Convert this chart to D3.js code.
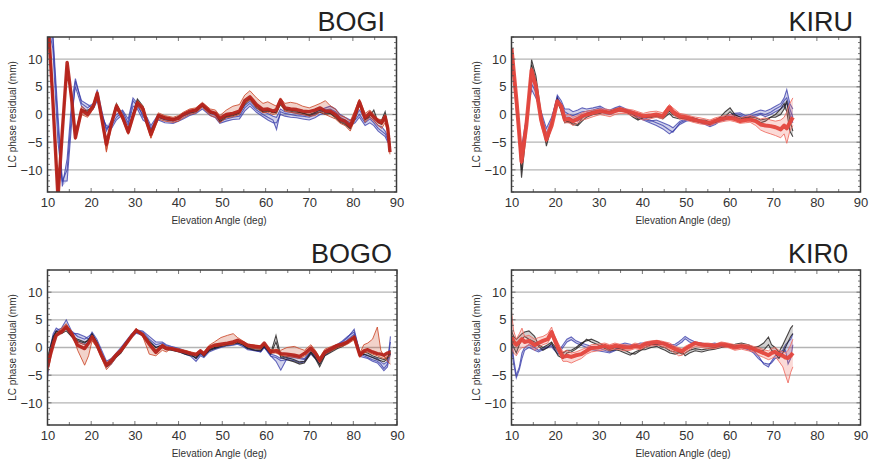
<!DOCTYPE html>
<html><head><meta charset="utf-8">
<script src="https://cdn.jsdelivr.net/npm/d3@7"></script>
<style>body{margin:0;background:#fff}</style>
</head><body>
<svg id="c" width="869" height="461"></svg>
<script>
// ---------- tick labels ----------
const xTicks = [10, 20, 30, 40, 50, 60, 70, 80, 90];
const yTicks = [-10, -5, 0, 5, 10];
const stationNames = ["BOGI", "KIRU", "BOGO", "KIR0"];

// ---------- BOGI ----------
const elevBOGI = [10.2, 11.2, 12.4, 13.4, 14.5, 15.5, 16.4, 17.8, 19.2, 20.5,
  21.4, 22.5, 23.5, 24.7, 25.8, 27.2, 28.5, 29.6, 30.6, 31.9,
  32.8, 33.7, 35.4, 36.9, 38.8, 40.0, 41.1, 42.6, 44.0, 45.5,
  47.3, 48.5, 49.5, 51.0, 52.5, 54.0, 55.2, 56.4, 57.9, 59.4,
  60.5, 61.7, 62.5, 63.4, 64.4, 65.7, 67.1, 68.5, 70.0, 71.3,
  72.5, 73.7, 74.8, 76.0, 77.1, 78.2, 79.4, 80.5, 81.5, 82.8,
  83.9, 84.8, 85.8, 86.6, 87.4, 88.0, 88.5];
const bogiBlue0 = [16, 14, -2, -13, -8, 2, 6.5, 2, 1.2, 2,
  3.5, 0, -2.5, -2, -0.5, 0.5, -1.5, 2.5, 1.5, 0,
  -1, -2.5, -0.5, -1, -1.2, -0.8, -0.3, 0.2, 0.5, 1.5,
  0.2, -0.2, -1.2, -0.8, -0.5, -0.3, 1.2, 2, 0.8, 0,
  -0.5, -1, -2.7, 0.5, 0.2, 0, -0.2, -0.3, -0.5, 0,
  0.5, 0.8, 1.0, 0.5, -0.5, -1, -1.5, -1, 0, -1.5,
  -0.8, -1.5, -2.5, -3, -3.5, -4.5, -5.5];
const bogiBlue1 = [16, 12, -5, -12, -10, 0, 5.0, 1.5, 0.5, 1.5,
  4.5, 0.5, -3.0, -1.0, 0, 0.8, -0.8, 3.0, 2.0, -0.5,
  -0.5, -2.0, 0, -0.6, -0.8, -0.4, 0, 0.5, 1.0, 2.0,
  0.6, 0.2, -0.6, -0.3, 0, 0.3, 1.6, 2.4, 1.2, 0.5,
  0.2, -0.3, -0.5, 1.0, 0.5, 0.4, 0.2, 0, -0.2, 0.3,
  0.8, 1.2, 1.5, 1.0, 0, -0.5, -1.0, -0.5, 0.8, -0.8,
  -0.5, -1.0, -2.0, -2.2, -3.0, -4.0, -6.0];
const bogiBlue2 = [16, 15, 0, -12, -12, -2, 6.0, 2.5, 1.8, 1.0,
  2.5, -0.5, -2.0, -2.5, -1.0, 0, -2.0, 1.5, 1.0, -1.0,
  -1.5, -2.8, -1.0, -1.5, -1.6, -1.2, -0.8, -0.2, 0.2, 1.0,
  -0.2, -0.6, -1.6, -1.2, -0.9, -0.8, 0.6, 1.5, 0.4, -0.4,
  -1.0, -1.5, -1.5, 0, -0.3, -0.5, -0.6, -0.8, -1.0, -0.6,
  0, 0.2, 0.5, 0, -1.0, -1.4, -2.0, -1.5, -0.5, -2.0,
  -1.5, -2.0, -3.0, -3.5, -4.0, -5.0, -5.0];
const bogiBlack0 = [16, 3, -14, -3, 9.0, 2.5, -3.8, 1.0, 0.3, 1.8,
  3.6, -0.8, -5.0, -1.2, 2.0, -0.2, -3.0, 0.2, 2.8, 1.5,
  -1.2, -3.2, 0, -0.4, -0.8, -0.5, 0.2, 0.5, 0.9, 1.5,
  0.6, 0, -1.0, -0.3, 0, 0.4, 2.2, 3.0, 1.5, 0.6,
  0.8, 0.3, 0.5, 2.2, 1.0, 0.8, 0.6, 0.2, 0, 0.4,
  0.8, 0.3, 0.2, -0.4, -1.2, -1.6, -2.4, -0.5, 2.0, -0.8,
  0, -0.2, -1.0, -1.0, 0.5, -2.0, -5.5];
const bogiBlack1 = [16, 3.5, -15, -2.5, 8.8, 3.2, -3.0, 0.5, 0.8, 1.2,
  3.2, -1.2, -5.8, -1.8, 1.2, -0.8, -2.6, 0, 2.5, 0.6,
  -1.8, -3.0, -0.5, -0.9, -1.1, -0.3, -0.2, 0.3, 0.5, 1.6,
  0.2, 0.4, -1.3, -0.5, -0.2, 0.2, 1.8, 2.8, 1.2, 0.4,
  0.6, 0.4, 0.3, 1.8, 0.8, 0.6, 0.4, 0.3, -0.2, 0.2,
  0.4, 0, 0.2, -0.6, -1.4, -1.8, -2.6, -0.8, 1.8, -1.0,
  -0.3, 0.8, -1.5, -1.8, -0.5, -3.0, -4.5];
const bogiRed1 = [16, 4, -14, -2, 9.0, 3.5, -3.5, 1.5, 0.5, 2.0,
  4.2, -0.5, -6.5, -1.0, 2.0, 0, -2.8, 0.2, 2.5, 1.5,
  -1.0, -4.2, 0.3, -0.2, -0.5, -0.2, 0.4, 1.0, 1.2, 2.2,
  1.0, 0.8, -0.2, 0.8, 1.5, 1.8, 3.5, 4.3, 3.0, 2.0,
  2.3, 1.8, 1.5, 3.0, 2.0, 2.2, 2.0, 1.5, 1.2, 1.6,
  2.0, 2.5, 1.6, 1.0, -0.2, -0.5, -1.2, 0.8, 2.8, 0.2,
  0.8, 0, -0.8, -1.0, 0, -2.0, -6.0];
const bogiRed2 = [16, 2, -15, -4, 8.5, 2.5, -4.5, 0, -0.5, 1.0,
  3.2, -1.5, -6.8, -2.0, 1.0, -1.0, -3.6, -0.8, 1.6, 0.4,
  -2.0, -4.3, -0.8, -1.2, -1.4, -1.2, -0.6, 0, 0.3, 1.3,
  -0.2, -0.5, -1.5, -0.6, -0.4, 0, 2.0, 2.6, 1.2, 0.3,
  0.4, 0, 0.2, 2.0, 0.6, 0.4, 0.2, 0, -0.3, -0.2,
  0.5, 0, -0.4, -0.8, -1.6, -2.0, -3.0, -0.8, 1.6, -1.4,
  -0.5, -1.2, -2.0, -2.5, -1.5, -3.2, -7.2];
const bogiRedCore = [16, 3, -15, -3, 9.4, 3, -4.2, 0.8, 0, 1.5,
  3.8, -1, -5.4, -1.5, 1.5, -0.5, -3.2, -0.3, 2.1, 1.0,
  -1.5, -3.6, -0.2, -0.6, -0.9, -0.7, 0, 0.6, 0.8, 1.8,
  0.5, 0.2, -0.7, 0, 0.2, 0.6, 2.5, 3.2, 1.8, 0.9,
  1.0, 0.6, 0.9, 2.6, 1.2, 1.0, 0.9, 0.6, 0.5, 0.8,
  1.2, 0.6, 0.6, 0, -0.9, -1.2, -2.1, 0, 2.3, -0.6,
  0.3, -0.5, -1.2, -1.5, -0.4, -2.5, -6.8];

// ---------- KIRU ----------
const elevKIRU = [10.0, 11.2, 12.3, 13.4, 14.6, 15.6, 16.8, 18.0, 19.2, 20.5,
  21.4, 22.2, 23.2, 24.1, 25.2, 26.2, 27.2, 28.7, 30.3, 31.5,
  32.6, 33.7, 34.8, 36.3, 37.9, 39.0, 40.2, 41.7, 43.2, 44.7,
  46.2, 47.0, 48.6, 50.0, 51.6, 53.2, 54.4, 55.5, 56.7, 57.8,
  59.0, 60.1, 61.2, 62.4, 63.6, 64.7, 66.0, 67.1, 68.2, 69.4,
  70.5, 71.7, 72.5, 73.1, 73.8, 74.5];
const kiruBlue0 = [12, 0, -7, -1, 5.5, 4, 0, -3.5, -1, 3.5,
  2.5, 1.0, 1.0, 0.5, 0.8, 1.2, 1.0, 1.2, 1.5, 1.0,
  0.8, 1.2, 1.5, 1.0, 0.5, 0, -0.5, -1.0, -1.5, -2.0,
  -2.8, -3.2, -1.5, -1.0, -0.8, -1.2, -1.5, -1.8, -1.2, -0.6,
  -0.4, 0, 0.2, 0.3, -0.2, 0, 0.5, 0.8, 0.6, 1.0,
  1.5, 2.0, 3.0, 4.5, 2.0, 1.0];
const kiruBlue1 = [12, 1, -6, -0.5, 4.5, 3, 0.5, -2.5, -0.5, 3.0,
  2.0, 0.5, 0, -0.2, 0.2, 0.5, 0.6, 0.8, 1.2, 0.6,
  0.5, 0.8, 1.2, 0.7, 0.2, -0.4, -0.8, -1.2, -1.0, -1.5,
  -2.0, -2.4, -1.2, -0.8, -0.6, -1.0, -1.2, -2.0, -1.5, -1.0,
  -0.8, -0.4, -0.2, 0, -0.5, -0.3, 0, 0.2, 0, 0.4,
  1.0, 1.5, 2.5, 3.0, 1.0, -0.5];
const kiruBlue2 = [12, 2, -7.5, -2, 6.5, 5, -0.5, -4.5, -1.5, 3.2,
  1.5, -0.5, -0.5, -1.0, -1.2, -0.5, 0, 0.3, 0.5, 0.2,
  0, 0.4, 0.8, 0.4, 0, -0.6, -1.0, -1.5, -2.0, -2.6,
  -3.5, -3.0, -1.8, -1.2, -1.0, -1.5, -1.8, -2.2, -1.8, -1.2,
  -1.0, -0.6, -0.5, -0.3, -0.8, -0.5, -0.3, 0, -0.4, 0,
  0.5, 1.0, 1.5, 2.0, 0, -1.5];
const kiruBlack0 = [11, 2, -11.4, -3, 9.9, 7, 0, -5.7, -2, 2.0,
  1.0, -1.0, -1.5, -1.5, -1.8, -0.6, 0.2, 0.6, 0.8, 0.4,
  0.6, 1.0, 1.2, 0.8, 0, -0.8, -0.6, -0.4, -0.2, -0.5,
  0.6, 0, -0.6, -0.8, -1.2, -1.4, -1.6, -1.8, -1.0, -0.5,
  0.5, 1.2, 0, -0.5, -0.8, -0.4, -0.6, -1.0, -0.8, -0.5,
  -0.5, 0, 1.0, 2.5, -1.0, -3.0];
const kiruBlack1 = [12, 3, -10, -1.5, 9.0, 6, -0.5, -5.0, -1.5, 2.8,
  0.5, -1.5, -1.2, -1.8, -2.0, -1.2, -0.5, 0, 0.2, 0.6,
  0.4, 0.8, 0.6, 0.5, -0.5, -1.0, -0.5, -0.6, -0.4, -0.8,
  0.2, -0.5, -0.8, -0.4, -0.6, -1.0, -1.0, -1.4, -1.5, -1.0,
  -0.4, 0.5, -0.4, -0.8, -0.5, -0.8, -1.0, -1.5, -1.2, -0.5,
  0, 1.0, 2.0, 0.5, -3.0, -4.0];
const kiruRed1 = [12, 3, -7, -1, 7.5, 6, 0, -3.5, -1, 2.0,
  1.8, -0.2, 0, -0.5, -0.2, 0.3, 0.6, 0.8, 1.0, 1.0,
  0.8, 1.0, 1.3, 1.0, 0.8, 0.5, 0.2, 0.5, 0.6, 0.3,
  1.8, 1.2, 0.2, 0, -0.4, -0.6, -0.8, -1.0, -0.6, -0.4,
  -0.2, 0, -0.3, -0.6, -0.4, -0.2, -0.5, -0.8, -0.6, -1.0,
  -1.2, -1.0, -0.5, 0.5, 2.0, 3.0];
const kiruRed2 = [12, 1, -9, -3, 8.5, 4, -2, -5, -2.5, 2.6,
  1.0, -1.5, -1.5, -2.0, -1.5, -1.0, -0.8, -0.4, 0, -0.2,
  -0.4, 0, 0.2, 0.2, -0.3, -0.6, -1.0, -0.8, -0.5, -0.8,
  0.8, 0, -0.8, -1.0, -1.4, -1.7, -1.8, -2.0, -1.6, -1.4,
  -1.2, -1.1, -1.3, -1.6, -1.5, -1.4, -2.0, -2.8, -3.2, -3.5,
  -3.8, -4.2, -3.5, -5.2, -3.0, -2.0];
const kiruRedCore = [12, 2, -8.5, -2, 8.0, 5, -1, -4.5, -2, 2.4,
  1.5, -0.9, -0.8, -1.2, -0.8, -0.3, 0, 0.3, 0.6, 0.5,
  0.3, 0.6, 0.9, 0.6, 0.3, 0, -0.3, -0.2, 0, -0.3,
  1.3, 0.5, -0.3, -0.5, -0.9, -1.2, -1.4, -1.5, -1.1, -0.9,
  -0.7, -0.6, -0.8, -1.2, -1.0, -0.9, -1.2, -1.8, -2.0, -2.1,
  -2.3, -2.7, -2.0, -2.5, -1.5, -0.5];

// ---------- BOGO ----------
const elevBOGO = [10.0, 10.6, 11.3, 12.0, 13.2, 14.3, 15.5, 16.9, 18.5, 19.4,
  20.2, 21.3, 22.4, 23.5, 24.6, 25.7, 26.8, 28.0, 29.2, 30.3,
  31.8, 33.3, 34.8, 36.3, 37.2, 38.3, 40.2, 41.5, 42.8, 44.0,
  45.0, 45.8, 47.0, 48.2, 49.7, 51.2, 52.5, 53.5, 54.7, 55.8,
  57.3, 58.8, 59.6, 61.1, 62.3, 63.4, 64.8, 66.5, 67.7, 68.8,
  70.3, 71.3, 72.3, 73.5, 75.0, 76.4, 77.5, 78.7, 80.2, 81.5,
  82.4, 83.3, 84.4, 85.5, 86.3, 87.0, 87.8, 88.5];
const bogoBlue0 = [-5.5, -1.0, 2.0, 3.0, 3.5, 5.0, 3.0, 2.0, 1.5, 2.0,
  2.5, 1.0, -1.0, -3.0, -2.5, -1.2, -0.2, 1.0, 2.2, 3.0,
  2.8, 1.5, 0.5, 0.8, 0.3, 0, -0.4, -0.8, -1.2, -2.0,
  -1.2, -1.5, -0.5, -0.2, 0.2, 0.5, 0.6, 0.8, 0.4, -0.2,
  -0.4, -0.6, 0.3, -1.5, -2.5, -4.1, -2.0, -1.8, -2.0, -2.2,
  -0.8, -1.6, -2.6, -1.0, -0.2, 0.5, 1.0, 1.8, 3.3, -1.0,
  -1.5, -1.8, -2.2, -2.5, -3.0, -3.8, -3.0, 2.0];
const bogoBlue1 = [-4.0, 0, 2.5, 3.5, 2.8, 4.0, 2.5, 2.5, 2.0, 1.5,
  2.8, 1.5, -0.5, -2.5, -2.0, -1.0, 0, 1.2, 2.4, 3.2,
  3.0, 2.0, 1.0, 1.0, 0.5, 0.2, -0.2, -0.6, -1.0, -1.6,
  -0.8, -1.2, -0.3, 0, 0.3, 0.6, 0.8, 1.0, 0.6, 0,
  -0.5, -0.8, 0, -1.2, -1.5, -2.0, -1.6, -1.5, -1.8, -2.0,
  -0.5, -1.4, -2.4, -0.6, 0, 0.6, 1.2, 2.0, 2.8, -0.8,
  -1.2, -1.4, -1.8, -2.0, -2.6, -3.0, -2.5, 1.0];
const bogoBlue2 = [-3.0, -2.0, 1.0, 2.0, 3.0, 3.5, 2.0, 1.0, 0.5, 1.0,
  2.0, 0.5, -1.5, -3.5, -3.0, -1.8, -0.8, 0.5, 1.8, 2.6,
  2.2, 1.0, 0, 0.4, 0, -0.4, -0.8, -1.2, -1.6, -2.5,
  -1.5, -1.8, -0.8, -0.4, 0, 0.3, 0.4, 0.6, 0.2, -0.4,
  -0.6, -0.8, 0, -1.6, -1.8, -2.4, -2.2, -2.4, -2.8, -2.6,
  -1.2, -2.0, -3.0, -1.4, -0.6, 0.2, 0.6, 1.4, 2.4, -1.6,
  -1.8, -2.0, -2.5, -2.8, -3.5, -4.2, -3.5, -1.0];
const bogoBlack0 = [-3.0, -1.0, 1.5, 2.8, 3.0, 3.5, 2.2, 1.2, 0.8, 1.5,
  2.0, 0.6, -1.8, -3.5, -2.8, -1.8, -1.0, 0.5, 2.2, 3.3,
  2.0, 0.8, -0.5, 0, -0.4, -0.5, -0.8, -1.2, -1.5, -1.8,
  -0.8, -1.6, -0.4, 0, 0.4, 0.6, 0.8, 1.0, 0.6, 0,
  -0.2, -0.3, 0.5, -1.0, 2.2, -1.5, -1.8, -2.2, -2.6, -2.5,
  -0.8, -1.8, -3.0, -1.2, -0.5, 0, 0.5, 1.0, 2.0, -1.2,
  -0.8, -1.0, -1.5, -1.8, -2.0, -2.2, -1.8, -1.2];
const bogoBlack1 = [-2.0, 0, 2.0, 3.0, 2.5, 3.0, 2.0, 1.5, 1.0, 1.2,
  2.5, 1.0, -1.2, -3.0, -2.5, -1.5, -0.5, 0.8, 2.0, 2.8,
  2.5, 1.2, 0, 0.5, 0, -0.2, -0.4, -1.0, -1.2, -2.0,
  -1.0, -1.4, -0.6, -0.2, 0.2, 0.4, 0.6, 0.8, 0.5, -0.2,
  -0.5, -0.6, 0.2, -1.2, 1.0, -1.8, -2.2, -2.6, -3.0, -2.8,
  -1.0, -2.0, -3.5, -1.5, -0.8, -0.2, 0.2, 0.8, 1.8, -1.5,
  -1.2, -1.5, -1.8, -2.2, -2.4, -2.6, -2.0, -0.5];
const bogoRed1 = [-4.5, -2.5, 1.0, 2.5, 3.5, 4.3, 2.8, -0.5, -3.2, -1.5,
  1.2, 0, -2.0, -4.0, -3.0, -1.8, -0.8, 0.5, 1.8, 3.5,
  2.0, -1.2, -1.5, -0.5, -0.8, -0.2, -0.3, -0.5, -0.8, -1.0,
  -0.5, -0.8, 0.4, 1.0, 1.8, 2.2, 2.5, 1.8, 1.2, 0.6,
  0.5, 0.3, 0.6, -0.4, -0.3, -0.5, 0, 0.2, -0.2, -0.5,
  0.5, -0.5, -1.8, -0.3, 0.2, 0.6, 0.8, 1.2, 1.5, -1.0,
  0.5, 0.8, 1.5, 3.7, -0.5, -1.5, -2.5, -3.0];
const bogoRed2 = [-2.5, -0.8, 1.2, 2.5, 3.2, 4.0, 3.0, 1.0, 0.5, 0.8,
  2.2, 0.8, -1.0, -2.8, -2.0, -1.0, -0.2, 1.0, 2.4, 3.0,
  2.6, 1.0, -0.4, 0.6, 0.2, 0, -0.3, -0.6, -0.8, -1.5,
  -0.8, -1.0, -0.2, 0.2, 0.3, 0.5, 0.6, 1.0, 0.6, 0.1,
  -0.2, -0.3, 0.5, -1.0, -1.0, -1.4, -1.6, -1.8, -2.0, -1.6,
  -0.6, -1.3, -2.8, -1.2, -0.6, 0, 0.2, 0.6, 1.4, -1.8,
  -1.0, -0.8, -1.2, -1.5, -1.8, -2.0, -1.6, -1.5];
const bogoRedCore = [-3.5, -1.5, 0.5, 2.2, 2.8, 3.7, 2.5, 0.4, -0.2, 0.8,
  1.9, 0.5, -1.5, -3.2, -2.4, -1.4, -0.6, 0.7, 2.0, 3.1,
  2.3, 0.6, -0.9, 0.3, -0.2, -0.2, -0.6, -0.8, -1.1, -1.3,
  -0.6, -1.2, 0, 0.4, 0.6, 0.8, 1.0, 1.3, 0.9, 0.4,
  0.2, 0.1, 0.8, -0.8, -0.6, -1.1, -1.2, -1.4, -1.6, -1.1,
  -0.1, -1.0, -2.3, -0.8, -0.2, 0.4, 0.6, 1.0, 1.9, -1.4,
  -0.6, -0.4, -0.8, -1.1, -1.2, -1.4, -1.0, -0.8];

// ---------- KIR0 ----------
const elevKIR0 = [10.0, 10.5, 11.1, 11.8, 12.4, 13.0, 14.0, 15.3, 16.2, 17.2,
  18.3, 19.2, 19.6, 20.7, 21.8, 22.7, 23.7, 24.8, 26.0, 27.2,
  28.3, 29.8, 31.4, 32.5, 33.7, 34.8, 36.0, 37.2, 38.3, 39.5,
  40.6, 42.0, 43.3, 44.2, 45.2, 46.3, 47.5, 48.3, 49.1, 49.8,
  50.8, 52.1, 53.6, 55.1, 56.6, 58.1, 59.6, 61.2, 62.7, 64.3,
  65.5, 66.6, 67.8, 68.9, 69.6, 70.4, 71.3, 72.2, 72.8, 73.4,
  74.0, 74.5];
const kir0Blue0 = [2.0, -2.0, -5.0, -3.5, -1.0, 0, 0.5, 0, -0.5, -0.2,
  0.2, 0.5, 0.2, -0.8, 0.5, 1.5, 1.9, 1.2, 0.8, 0.5,
  0.2, 0, -0.5, -0.8, -0.4, 0.5, 0.8, 0.6, 0.4, 0.8,
  0.8, 1.0, 0.8, 1.0, 0.8, 0.5, 0.6, 1.0, 1.5, 2.0,
  1.5, 1.0, 0.8, 0.6, 0.8, 0.5, 0.5, 0.2, 0.4, 0,
  -0.5, -1.5, -3.0, -3.5, -2.5, -1.5, -1.0, -0.5, 0.5, 1.0,
  1.5, 2.5];
const kir0Blue1 = [0, -3.0, -5.5, -4.0, -2.0, -0.5, 0, -0.5, -0.8, -0.4,
  0, 0.2, -0.3, -1.2, 0, 1.0, 1.4, 0.8, 0.4, 0,
  -0.4, -0.6, -0.8, -1.0, -0.6, 0, 0.4, 0.2, 0, 0.4,
  0.5, 0.6, 0.4, 0.6, 0.5, 0.2, 0.2, 0.6, 1.0, 1.6,
  1.0, 0.6, 0.4, 0.2, 0.4, 0.2, 0.2, 0, 0, -0.4,
  -1.0, -2.0, -2.8, -3.0, -2.8, -2.0, -1.8, -1.0, -0.5, -3.0,
  -2.0, 0.5];
const kir0Black0 = [3.0, 2.0, 1.5, 2.0, 2.5, 2.8, 3.0, 2.0, 0.5, 0,
  0.5, 1.0, 0.5, -0.5, -1.0, -0.5, -0.5, 0, 0.8, 1.2,
  1.5, 1.0, 0.2, -0.4, 0, -0.2, -0.5, -1.0, -1.2, -0.6,
  0, 0.5, 0.6, 0.2, 0, -0.6, -0.8, -0.8, -1.2, -1.0,
  -0.5, -0.2, -0.4, -0.2, 0, 0.4, 0.5, 0.6, 0.8, 0.5,
  0, 0.2, 0.8, 1.9, 0.5, 0, -0.8, 0.5, 1.5, 2.5,
  3.5, 4.0];
const kir0Black1 = [1.0, 0, -1.0, 0.5, 1.5, 2.0, 1.5, 1.0, 0.2, -0.5,
  0, 0.8, 0, -1.5, -2.0, -1.0, -0.8, -0.3, 0.5, 1.5,
  1.0, 0.5, -0.2, -0.6, -0.4, -0.6, -1.0, -1.4, -0.8, -0.4,
  -0.4, 0, 0.2, -0.2, -0.5, -1.0, -1.2, -1.0, -0.8, -1.5,
  -1.0, -0.6, -0.8, -0.5, -0.3, 0, 0.2, 0.2, 0.5, 0.2,
  -0.4, -0.8, -0.5, 0.5, -0.5, -1.0, -2.0, -1.0, 0, 1.0,
  2.0, 2.5];
const kir0Red1 = [6.4, 3.0, 1.5, 2.5, 3.5, 2.0, 2.2, 1.5, 1.8, 2.0,
  2.5, 3.7, 2.5, 0.8, -0.8, -0.5, -1.0, -0.8, -0.4, 0,
  0.5, 0.6, 0.8, 0.5, 0.8, 0.6, 0.5, 0.4, 0.8, 0.6,
  1.0, 1.2, 1.3, 1.2, 1.0, 0.8, 0.2, 0, -0.3, 0.2,
  0.6, 1.0, 0.8, 0.8, 0.6, 1.0, 0.8, 0.5, 0.6, 0.5,
  0.2, 0, -0.4, -0.6, -0.2, 0, -0.5, -0.8, -1.0, -0.5,
  0.5, 1.5];
const kir0Red2 = [0, -1.0, -1.5, -0.5, 0, 0, 0.5, -0.5, 0, 0.5,
  0.8, 2.0, 1.2, -0.8, -2.5, -2.5, -2.8, -2.4, -2.0, -1.2,
  -0.8, -0.6, -0.4, -0.5, -0.3, -0.4, -0.6, -0.5, -0.2, -0.4,
  0, 0.3, 0.4, 0.3, 0, -0.4, -1.0, -1.5, -1.4, -1.0,
  -0.4, 0.2, 0, -0.2, -0.2, 0.1, 0, -0.5, -0.3, -0.6,
  -0.8, -1.4, -1.8, -2.2, -2.0, -1.6, -2.5, -3.5, -5.0, -6.4,
  -4.5, -3.5];
const kir0RedCore = [2.0, 1.0, 0.5, 1.0, 1.5, 1.0, 1.2, 0.4, 0.8, 1.2,
  1.5, 2.8, 2.0, -0.1, -1.7, -1.5, -1.7, -1.4, -1.2, -0.6,
  -0.1, 0, 0.3, 0, 0.3, 0.2, 0, 0, 0.3, 0.1,
  0.6, 0.8, 1.0, 0.8, 0.6, 0.2, -0.3, -0.5, -0.7, -0.3,
  0.2, 0.8, 0.5, 0.4, 0.3, 0.6, 0.4, 0, 0.2, 0,
  -0.3, -0.6, -1.0, -1.4, -1.0, -0.8, -1.2, -1.5, -1.8, -1.9,
  -1.5, -1.0];

// ---------- layout / style ----------
const panels = [
  {name: stationNames[0], elev: elevBOGI, blue: [bogiBlue0, bogiBlue1, bogiBlue2], black: [bogiBlack0, bogiBlack1],
   red: [bogiRed1, bogiRed2], core: bogiRedCore, L: 47.5, R: 396.5, T: 37, B: 192, tx: 385, ty: 31, lx: 16, warm: false},
  {name: stationNames[1], elev: elevKIRU, blue: [kiruBlue0, kiruBlue1, kiruBlue2], black: [kiruBlack0, kiruBlack1],
   red: [kiruRed1, kiruRed2], core: kiruRedCore, L: 511.5, R: 860.5, T: 37, B: 192, tx: 853, ty: 31, lx: 480, warm: true},
  {name: stationNames[2], elev: elevBOGO, blue: [bogoBlue0, bogoBlue1, bogoBlue2], black: [bogoBlack0, bogoBlack1],
   red: [bogoRed1, bogoRed2], core: bogoRedCore, L: 47.5, R: 397, T: 270, B: 425, tx: 392, ty: 263, lx: 16, warm: false},
  {name: stationNames[3], elev: elevKIR0, blue: [kir0Blue0, kir0Blue1], black: [kir0Black0, kir0Black1],
   red: [kir0Red1, kir0Red2], core: kir0RedCore, L: 511.5, R: 860.5, T: 270, B: 425, tx: 848, ty: 263, lx: 480, warm: true}
];

const FONT = "'Liberation Sans', Arial, Helvetica, sans-serif";
const svg = d3.select("#c");

panels.forEach((p, pi) => {
  const x = d3.scaleLinear().domain([10, 90]).range([p.L, p.R]);
  const y = d3.scaleLinear().domain([-14, 14]).range([p.B, p.T]);
  const g = svg.append("g");

  g.append("text").attr("x", p.tx).attr("y", p.ty).attr("text-anchor", "end")
    .attr("font-family", FONT).attr("font-size", 27).attr("fill", "#222").text(p.name);

  g.selectAll(".grid").data(yTicks).enter().append("line")
    .attr("x1", p.L).attr("x2", p.R).attr("y1", d => y(d)).attr("y2", d => y(d))
    .attr("stroke", "#b4b4b4").attr("stroke-width", 1.3);

  const cid = "clip" + pi;
  svg.append("clipPath").attr("id", cid).append("rect")
    .attr("x", p.L).attr("y", p.T).attr("width", p.R - p.L).attr("height", p.B - p.T);
  const lg = g.append("g").attr("clip-path", `url(#${cid})`);
  const line = vals => d3.line().x((d, i) => x(p.elev[i])).y(d => y(d))(vals);
  // envelope of a group of series (min..max at each elevation)
  const band = group => d3.area()
    .x((d, i) => x(p.elev[i]))
    .y0((d, i) => y(d3.min(group, s => s[i])))
    .y1((d, i) => y(d3.max(group, s => s[i])))(p.elev);

  const blueCol = "#3438a8";
  const blackCol = "#1e1a1a";
  const thinRed = p.warm ? "#ee6b60" : "#cc4a2c";
  const coreRed = p.warm ? "#e4463d" : "#b5231b";

  lg.append("path").attr("d", band(p.blue)).attr("fill", blueCol).attr("fill-opacity", 0.22);
  p.blue.forEach(s => lg.append("path").attr("d", line(s)).attr("fill", "none")
    .attr("stroke", blueCol).attr("stroke-width", 1.1).attr("stroke-opacity", 0.75));
  lg.append("path").attr("d", band(p.black)).attr("fill", blackCol).attr("fill-opacity", 0.2);
  p.black.forEach(s => lg.append("path").attr("d", line(s)).attr("fill", "none")
    .attr("stroke", blackCol).attr("stroke-width", 1.1).attr("stroke-opacity", 0.8));
  lg.append("path").attr("d", band(p.red.concat([p.core]))).attr("fill", thinRed).attr("fill-opacity", 0.25);
  p.red.forEach(s => lg.append("path").attr("d", line(s)).attr("fill", "none")
    .attr("stroke", thinRed).attr("stroke-width", 1.0).attr("stroke-opacity", 0.85));
  lg.append("path").attr("d", line(p.core)).attr("fill", "none")
    .attr("stroke", coreRed).attr("stroke-width", p.warm ? 4 : 3.4)
    .attr("stroke-linejoin", "round").attr("stroke-opacity", 0.95);

  const tk = g.append("g").attr("stroke", "#555").attr("stroke-width", 0.8);
  x.ticks(16).forEach(v => {
    const len = (v % 10 === 0) ? 4 : 3;
    tk.append("line").attr("x1", x(v)).attr("x2", x(v)).attr("y1", p.T).attr("y2", p.T + len);
    tk.append("line").attr("x1", x(v)).attr("x2", x(v)).attr("y1", p.B).attr("y2", p.B - len);
  });
  d3.range(-14, 15, 1).forEach(v => {
    const len = (v % 5 === 0) ? 4 : 2.5;
    tk.append("line").attr("x1", p.L).attr("x2", p.L + len).attr("y1", y(v)).attr("y2", y(v));
    tk.append("line").attr("x1", p.R).attr("x2", p.R - len).attr("y1", y(v)).attr("y2", y(v));
  });

  g.append("rect").attr("x", p.L).attr("y", p.T).attr("width", p.R - p.L).attr("height", p.B - p.T)
    .attr("fill", "none").attr("stroke", "#3a3a3a").attr("stroke-width", 1.5);

  const ax = g.append("g").attr("transform", `translate(0,${p.B})`)
    .call(d3.axisBottom(x).tickValues(xTicks).tickSize(0).tickPadding(6));
  const ay = g.append("g").attr("transform", `translate(${p.L},0)`)
    .call(d3.axisLeft(y).tickValues(yTicks).tickSize(0).tickPadding(5));
  [ax, ay].forEach(a => {
    a.select(".domain").remove();
    a.selectAll("text").attr("font-family", FONT).attr("font-size", 13).attr("fill", "#333");
  });

  g.append("text").attr("x", (p.L + p.R) / 2 - 3).attr("y", p.B + 32).attr("text-anchor", "middle")
    .attr("font-family", FONT).attr("font-size", 10).attr("fill", "#333").text("Elevation Angle (deg)");
  g.append("text").attr("transform", `translate(${p.lx},${(p.T + p.B) / 2}) rotate(-90)`)
    .attr("text-anchor", "middle").attr("font-family", FONT).attr("font-size", 10).attr("fill", "#333")
    .text("LC phase residual (mm)");
});
</script>
</body></html>
